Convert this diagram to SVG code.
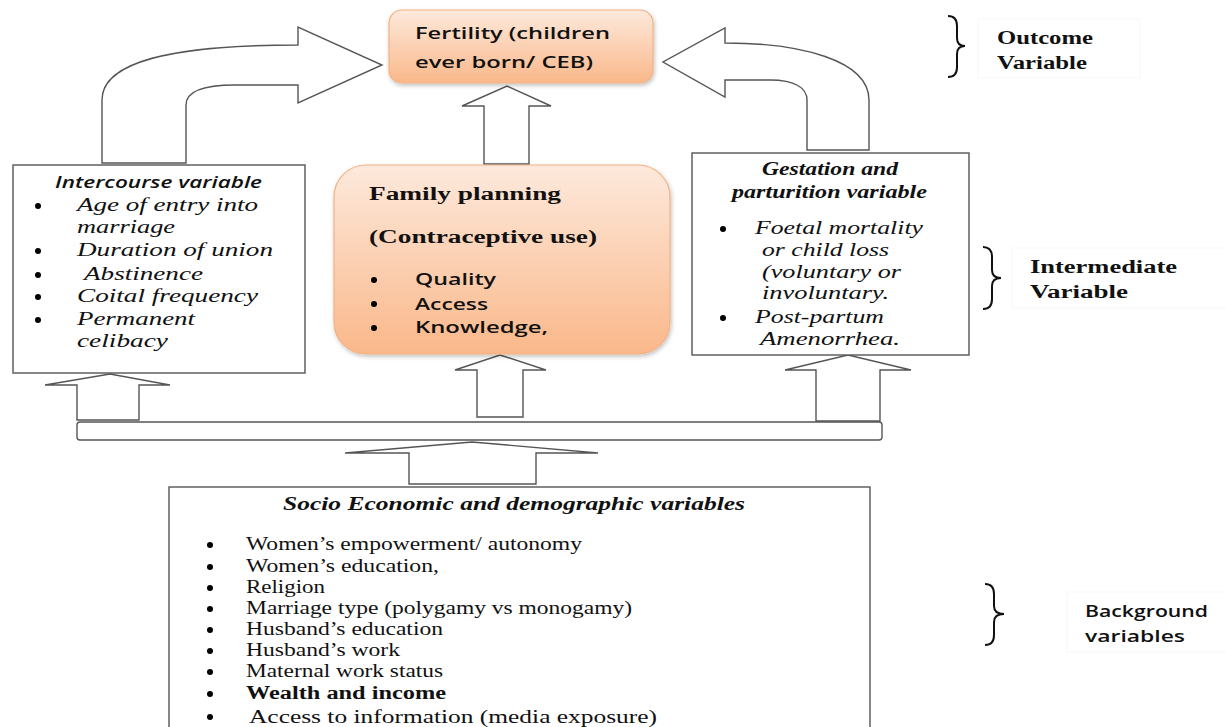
<svg xmlns="http://www.w3.org/2000/svg" width="1225" height="727" viewBox="0 0 1225 727">
<style>
.box{fill:#fff;stroke:#555;stroke-width:1.4}
.arr{fill:#fff;stroke:#555;stroke-width:1.4;stroke-linejoin:miter}
.ser{font-family:"Liberation Serif",serif;font-size:18px;fill:#111}
.seri{font-family:"Liberation Serif",serif;font-size:18px;font-style:italic;fill:#111}
.serbi{font-family:"Liberation Serif",serif;font-size:18px;font-style:italic;font-weight:bold;fill:#111}
.serb{font-family:"Liberation Serif",serif;font-size:18px;font-weight:bold;fill:#111}
.sans{font-family:"Open Sans","Liberation Sans",sans-serif;font-size:16px;font-weight:600;fill:#111}
.sansi{font-family:"Open Sans","Liberation Sans",sans-serif;font-size:16px;font-style:italic;font-weight:600;fill:#111}
.brace{fill:none;stroke:#111;stroke-width:2}
.lbl{fill:#fff;stroke:#f7f7f7;stroke-width:1}
</style>
<defs>
<linearGradient id="og" x1="0" y1="0" x2="0" y2="1">
<stop offset="0" stop-color="#fde9dc"/>
<stop offset="1" stop-color="#fab88a"/>
</linearGradient>
<filter id="sh" x="-10%" y="-10%" width="120%" height="130%">
<feDropShadow dx="1" dy="2" stdDeviation="2" flood-color="#000" flood-opacity="0.25"/>
</filter>
</defs>
<rect width="1225" height="727" fill="#fff"/>

<g id="connectors">
<path class="arr" d="M102,163 L102,100 C102,62 170,45 298,45 L298,27 L382,65 L298,103 L298,85 L235,85 C200,85 186,92 186,105 L186,163 Z"/>
<path class="arr" d="M869,150 L869,100 C869,60 800,43 725,43 L725,28 L663,62 L725,97 L725,80 L770,80 C795,80 807,88 807,100 L807,150 Z"/>
<path class="arr" d="M484,164 L484,106 L462,106 L507,86 L551,106 L529,106 L529,164 Z"/>
<path class="arr" d="M477,417 L477,370 L455,370 L500,355 L546,370 L523,370 L523,417 Z"/>
<path class="arr" d="M77,420 L77,385 L45,385 L110,374 L170,385 L139,385 L139,420 Z"/>
<path class="arr" d="M816,421 L816,370 L785,370 L848,355 L911,370 L880,370 L880,421 Z"/>
<path class="arr" d="M409,484 L409,453 L345,453 L472,442 L598,453 L536,453 L536,484 Z"/>
<rect class="arr" x="77" y="422" width="805" height="18" rx="3"/>
</g>

<g id="fertility">
<rect x="389" y="10" width="264" height="73" rx="13" fill="url(#og)" stroke="#f4b183" stroke-width="1.2" filter="url(#sh)"/>
<text class="sans" x="415" y="39" textLength="195" lengthAdjust="spacingAndGlyphs">Fertility (children</text>
<text class="sans" x="415" y="68" textLength="178" lengthAdjust="spacingAndGlyphs">ever born/ CEB)</text>
</g>

<g id="family-planning">
<rect x="334" y="165" width="336" height="189" rx="32" fill="url(#og)" stroke="#f4b183" stroke-width="1.2" filter="url(#sh)"/>
<text class="serb" x="369" y="200" textLength="192" lengthAdjust="spacingAndGlyphs">Family planning</text>
<text class="serb" x="369" y="243" textLength="228" lengthAdjust="spacingAndGlyphs">(Contraceptive use)</text>
<circle cx="374" cy="280" r="3"/><text class="sans" x="415" y="285" textLength="81" lengthAdjust="spacingAndGlyphs">Quality</text>
<circle cx="374" cy="304" r="3"/><text class="sans" x="415" y="310" textLength="73" lengthAdjust="spacingAndGlyphs">Access</text>
<circle cx="374" cy="328" r="3"/><text class="sans" x="415" y="333" textLength="133" lengthAdjust="spacingAndGlyphs">Knowledge,</text>
</g>

<g id="intercourse">
<rect class="box" x="13" y="165" width="292" height="208"/>
<text class="sansi" x="55" y="188" textLength="207" lengthAdjust="spacingAndGlyphs">Intercourse variable</text>
<circle cx="38" cy="206" r="3"/><text class="seri" x="77" y="211" textLength="181" lengthAdjust="spacingAndGlyphs">Age of entry into</text>
<text class="seri" x="77" y="233" textLength="98" lengthAdjust="spacingAndGlyphs">marriage</text>
<circle cx="38" cy="251" r="3"/><text class="seri" x="77" y="256" textLength="196" lengthAdjust="spacingAndGlyphs">Duration of union</text>
<circle cx="38" cy="275" r="3"/><text class="seri" x="84" y="280" textLength="119" lengthAdjust="spacingAndGlyphs">Abstinence</text>
<circle cx="38" cy="297" r="3"/><text class="seri" x="77" y="302" textLength="181" lengthAdjust="spacingAndGlyphs">Coital frequency</text>
<circle cx="38" cy="320" r="3"/><text class="seri" x="77" y="325" textLength="118" lengthAdjust="spacingAndGlyphs">Permanent</text>
<text class="seri" x="77" y="347" textLength="91" lengthAdjust="spacingAndGlyphs">celibacy</text>
</g>

<g id="gestation">
<rect class="box" x="692" y="153" width="277" height="202"/>
<text class="serbi" x="762" y="175" textLength="136" lengthAdjust="spacingAndGlyphs">Gestation and</text>
<text class="serbi" x="732" y="198" textLength="195" lengthAdjust="spacingAndGlyphs">parturition variable</text>
<circle cx="723" cy="229" r="3"/><text class="seri" x="755" y="234" textLength="168" lengthAdjust="spacingAndGlyphs">Foetal mortality</text>
<text class="seri" x="762" y="256" textLength="127" lengthAdjust="spacingAndGlyphs">or child loss</text>
<text class="seri" x="762" y="278" textLength="139" lengthAdjust="spacingAndGlyphs">(voluntary or</text>
<text class="seri" x="762" y="299" textLength="127" lengthAdjust="spacingAndGlyphs">involuntary.</text>
<circle cx="723" cy="318" r="3"/><text class="seri" x="755" y="323" textLength="129" lengthAdjust="spacingAndGlyphs">Post-partum</text>
<text class="seri" x="760" y="345" textLength="140" lengthAdjust="spacingAndGlyphs">Amenorrhea.</text>
</g>

<g id="socio">
<rect class="box" x="169" y="487" width="701" height="260"/>
<text class="serbi" x="283" y="510" textLength="462" lengthAdjust="spacingAndGlyphs">Socio Economic and demographic variables</text>
<circle cx="210" cy="545" r="3"/><text class="ser" x="246" y="550" textLength="336" lengthAdjust="spacingAndGlyphs">Women’s empowerment/ autonomy</text>
<circle cx="210" cy="567" r="3"/><text class="ser" x="246" y="572" textLength="193" lengthAdjust="spacingAndGlyphs">Women’s education,</text>
<circle cx="210" cy="588" r="3"/><text class="ser" x="246" y="593" textLength="79" lengthAdjust="spacingAndGlyphs">Religion</text>
<circle cx="210" cy="609" r="3"/><text class="ser" x="246" y="614" textLength="386" lengthAdjust="spacingAndGlyphs">Marriage type (polygamy vs monogamy)</text>
<circle cx="210" cy="630" r="3"/><text class="ser" x="246" y="635" textLength="197" lengthAdjust="spacingAndGlyphs">Husband’s education</text>
<circle cx="210" cy="651" r="3"/><text class="ser" x="246" y="656" textLength="154" lengthAdjust="spacingAndGlyphs">Husband’s work</text>
<circle cx="210" cy="672" r="3"/><text class="ser" x="246" y="677" textLength="197" lengthAdjust="spacingAndGlyphs">Maternal work status</text>
<circle cx="210" cy="694" r="3"/><text class="serb" x="246" y="699" textLength="200" lengthAdjust="spacingAndGlyphs">Wealth and income</text>
<circle cx="210" cy="717" r="3"/><text class="ser" x="249" y="723" textLength="408" lengthAdjust="spacingAndGlyphs">Access to information (media exposure)</text>
</g>

<g id="outcome-label">
<path class="brace" d="M948,16 Q957,16 957,26 L957,38 Q957,46 965,46 Q957,46 957,54 L957,67 Q957,77 948,77"/>
<rect class="lbl" x="978" y="19" width="162" height="59"/>
<text class="serb" x="997" y="44" textLength="96" lengthAdjust="spacingAndGlyphs">Outcome</text>
<text class="serb" x="997" y="69" textLength="90" lengthAdjust="spacingAndGlyphs">Variable</text>
</g>

<g id="intermediate-label">
<path class="brace" d="M983,247 Q992,247 992,257 L992,270 Q992,278 1001,278 Q992,278 992,286 L992,299 Q992,309 983,309"/>
<rect class="lbl" x="1012" y="248" width="215" height="60"/>
<text class="serb" x="1030" y="273" textLength="147" lengthAdjust="spacingAndGlyphs">Intermediate</text>
<text class="serb" x="1030" y="298" textLength="98" lengthAdjust="spacingAndGlyphs">Variable</text>
</g>

<g id="background-label">
<path class="brace" d="M985,584 Q994,584 994,594 L994,606 Q994,614 1004,614 Q994,614 994,622 L994,635 Q994,645 985,645"/>
<rect class="lbl" x="1067" y="592" width="160" height="60"/>
<text class="sans" x="1085" y="617" textLength="123" lengthAdjust="spacingAndGlyphs" style="font-size:17px">Background</text>
<text class="sans" x="1085" y="642" textLength="100" lengthAdjust="spacingAndGlyphs" style="font-size:17px">variables</text>
</g>
</svg>
